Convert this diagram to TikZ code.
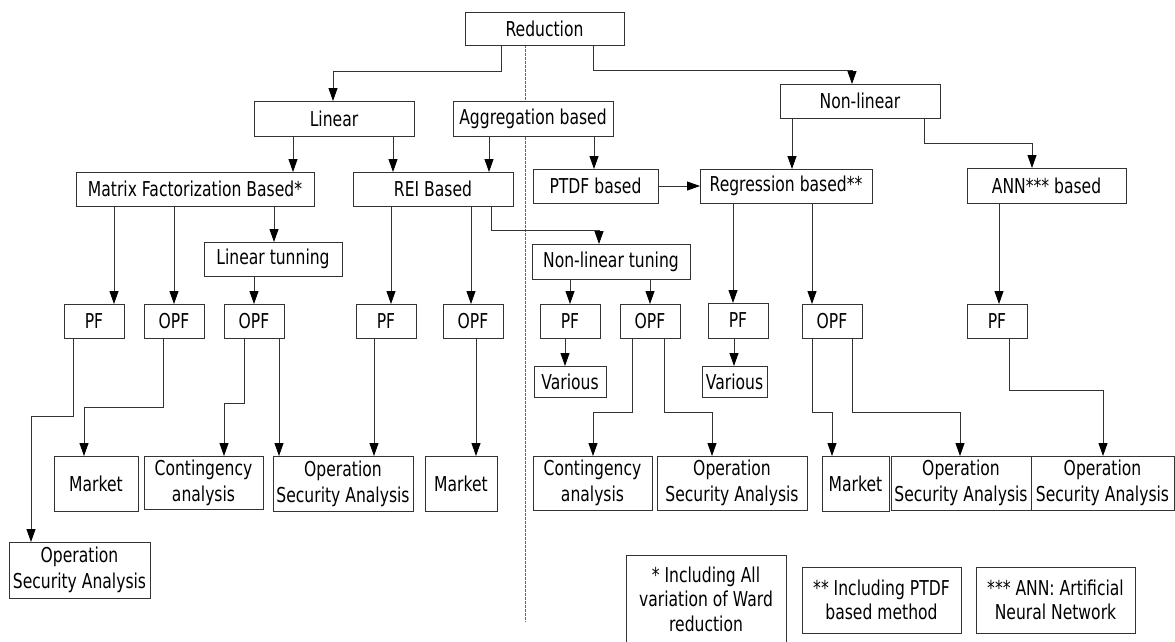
\documentclass[tikz,border=0pt]{standalone}
\usepackage{fontspec}
\setmainfont{DejaVu Sans}[FakeStretch=0.76]
\usetikzlibrary{arrows.meta}
% box given by its corners (x1,y1) and (x2,y2), y growing downwards
\newcommand{\cbox}[6]{\node[box, minimum width={#4-#2}, minimum height={#5-#3}] (#1) at ({(#2+#4)/2},{(#3+#5)/2}) {#6};}
\begin{document}
\begin{tikzpicture}[x=1pt,y=-1pt,
  box/.style={draw=black!80, line width=0.9pt, fill=white, inner sep=0pt, outer sep=0pt,
              align=center, font=\fontsize{20.5}{26}\selectfont},
  legend/.style={box, font=\fontsize{20.5}{24.5}\selectfont},
  arr/.style={draw=black!80, line width=0.9pt, -{Triangle[length=13pt,width=9pt,color=black]}},
  sep/.style={draw=black!60, line width=0.8pt, dash pattern=on 2.5pt off 1.5pt}]

\useasboundingbox (0,0) rectangle (1175,641);

% dashed divider between linear and non-linear families
\draw[sep] (525,45) -- (525,622);

% level 0 and 1
\cbox{red}{465}{12}{624}{45}{Reduction}
\cbox{lin}{254}{101}{414}{136}{Linear}
\cbox{agg}{453}{101}{613}{136}{Aggregation based}
\cbox{nonlin}{780}{84}{940}{118}{Non-linear}

% level 2
\cbox{mfb}{76}{172}{314}{206}{Matrix Factorization Based*}
\cbox{rei}{353}{172}{513}{206}{REI Based}
\cbox{ptdf}{533}{169}{658}{203}{PTDF based}
\cbox{reg}{700}{169}{872}{203}{Regression based**}
\cbox{ann}{967}{168}{1126}{203}{ANN*** based}

% tuning
\cbox{lt}{204}{242}{342}{276}{Linear tunning}
\cbox{nlt}{532}{244}{690}{279}{Non-linear tuning}

% PF / OPF
\cbox{pf1}{64}{304}{124}{338}{PF}
\cbox{opf1}{144}{304}{204}{338}{OPF}
\cbox{opf2}{224}{304}{284}{338}{OPF}
\cbox{pf3}{356}{304}{416}{338}{PF}
\cbox{opf4}{443}{304}{503}{338}{OPF}
\cbox{pf5}{540}{304}{600}{338}{PF}
\cbox{opf6}{620}{304}{680}{338}{OPF}
\cbox{pf7}{708}{303}{768}{338}{PF}
\cbox{opf8}{802}{304}{862}{338}{OPF}
\cbox{pf9}{967}{304}{1027}{338}{PF}

\cbox{var1}{534}{366}{606}{397}{Various}
\cbox{var2}{702}{366}{767}{397}{Various}

% applications
\cbox{mkt1}{54}{456}{138}{511}{Market}
\cbox{cont1}{144}{456}{263}{509}{Contingency\\analysis}
\cbox{osa1}{273}{456}{413}{511}{Operation\\Security Analysis}
\cbox{mkt2}{425}{456}{497}{511}{Market}
\cbox{cont2}{533}{456}{652}{510}{Contingency\\analysis}
\cbox{osa2}{657}{456}{807}{510}{Operation\\Security Analysis}
\cbox{mkt3}{822}{456}{889}{511}{Market}
\cbox{osa3}{891}{456}{1031}{510}{Operation\\Security Analysis}
\cbox{osa4}{1031}{456}{1174}{510}{Operation\\Security Analysis}
\cbox{osab}{9}{542}{150}{598}{Operation\\Security Analysis}

% footnotes
\node[legend, minimum width=160, minimum height=88] (leg1) at (706,599) {* Including All\\variation of Ward\\reduction};
\node[legend, minimum width=159, minimum height=66] (leg2) at (881.5,600) {** Including PTDF\\based method};
\node[legend, minimum width=159, minimum height=66] (leg3) at (1055.5,600) {*** ANN: Artificial\\Neural Network};

% connectors
\draw[arr] (red.south -| 501,0) |- (333,71) -- (lin.north -| 333,0);
\draw[arr] (red.south -| 593,0) |- (852,70) -- (nonlin.north -| 852,0);
\draw[arr] (lin.south -| 293,0) -- (mfb.north -| 293,0);
\draw[arr] (lin.south -| 393,0) -- (rei.north -| 393,0);
\draw[arr] (agg.south -| 489,0) -- (rei.north -| 489,0);
\draw[arr] (agg.south -| 594,0) -- (ptdf.north -| 594,0);
\draw[arr] (ptdf.east) -- (reg.west);
\draw[arr] (nonlin.south -| 792,0) -- (reg.north -| 792,0);
\draw[arr] (nonlin.south -| 924,0) |- (1032,143) -- (ann.north -| 1032,0);

\draw[arr] (mfb.south -| 114,0) -- (pf1.north -| 114,0);
\draw[arr] (mfb.south -| 174,0) -- (opf1.north);
\draw[arr] (mfb.south -| 274,0) -- (lt.north -| 274,0);
\draw[arr] (lt.south -| 254,0) -- (opf2.north);
\draw[arr] (rei.south -| 391,0) -- (pf3.north -| 391,0);
\draw[arr] (rei.south -| 471,0) -- (opf4.north -| 471,0);
\draw[arr] (rei.south -| 491,0) |- (599,230) -- (nlt.north -| 599,0);
\draw[arr] (nlt.south -| 570,0) -- (pf5.north);
\draw[arr] (nlt.south -| 650,0) -- (opf6.north);
\draw[arr] (pf5.south -| 565,0) -- (var1.north -| 565,0);
\draw[arr] (reg.south -| 733,0) -- (pf7.north -| 733,0);
\draw[arr] (pf7.south -| 734,0) -- (var2.north -| 734,0);
\draw[arr] (reg.south -| 812,0) -- (opf8.north -| 812,0);
\draw[arr] (ann.south -| 999,0) -- (pf9.north -| 999,0);

\draw[arr] (pf1.south -| 73,0) |- (31,416) -- (osab.north -| 31,0);
\draw[arr] (opf1.south -| 163,0) |- (84,407) -- (mkt1.north -| 84,0);
\draw[arr] (opf2.south -| 244,0) |- (224,403) -- (cont1.north -| 224,0);
\draw[arr] (opf2.south -| 279,0) -- (osa1.north -| 279,0);
\draw[arr] (pf3.south -| 374,0) -- (osa1.north -| 374,0);
\draw[arr] (opf4.south -| 476,0) -- (mkt2.north -| 476,0);
\draw[arr] (opf6.south -| 632,0) |- (593,412) -- (cont2.north -| 593,0);
\draw[arr] (opf6.south -| 664,0) |- (712,412) -- (osa2.north -| 712,0);
\draw[arr] (opf8.south -| 812,0) |- (832,412) -- (mkt3.north -| 832,0);
\draw[arr] (opf8.south -| 852,0) |- (960,412) -- (osa3.north -| 960,0);
\draw[arr] (pf9.south -| 1009,0) |- (1103,390) -- (osa4.north -| 1103,0);
\end{tikzpicture}
\end{document}
